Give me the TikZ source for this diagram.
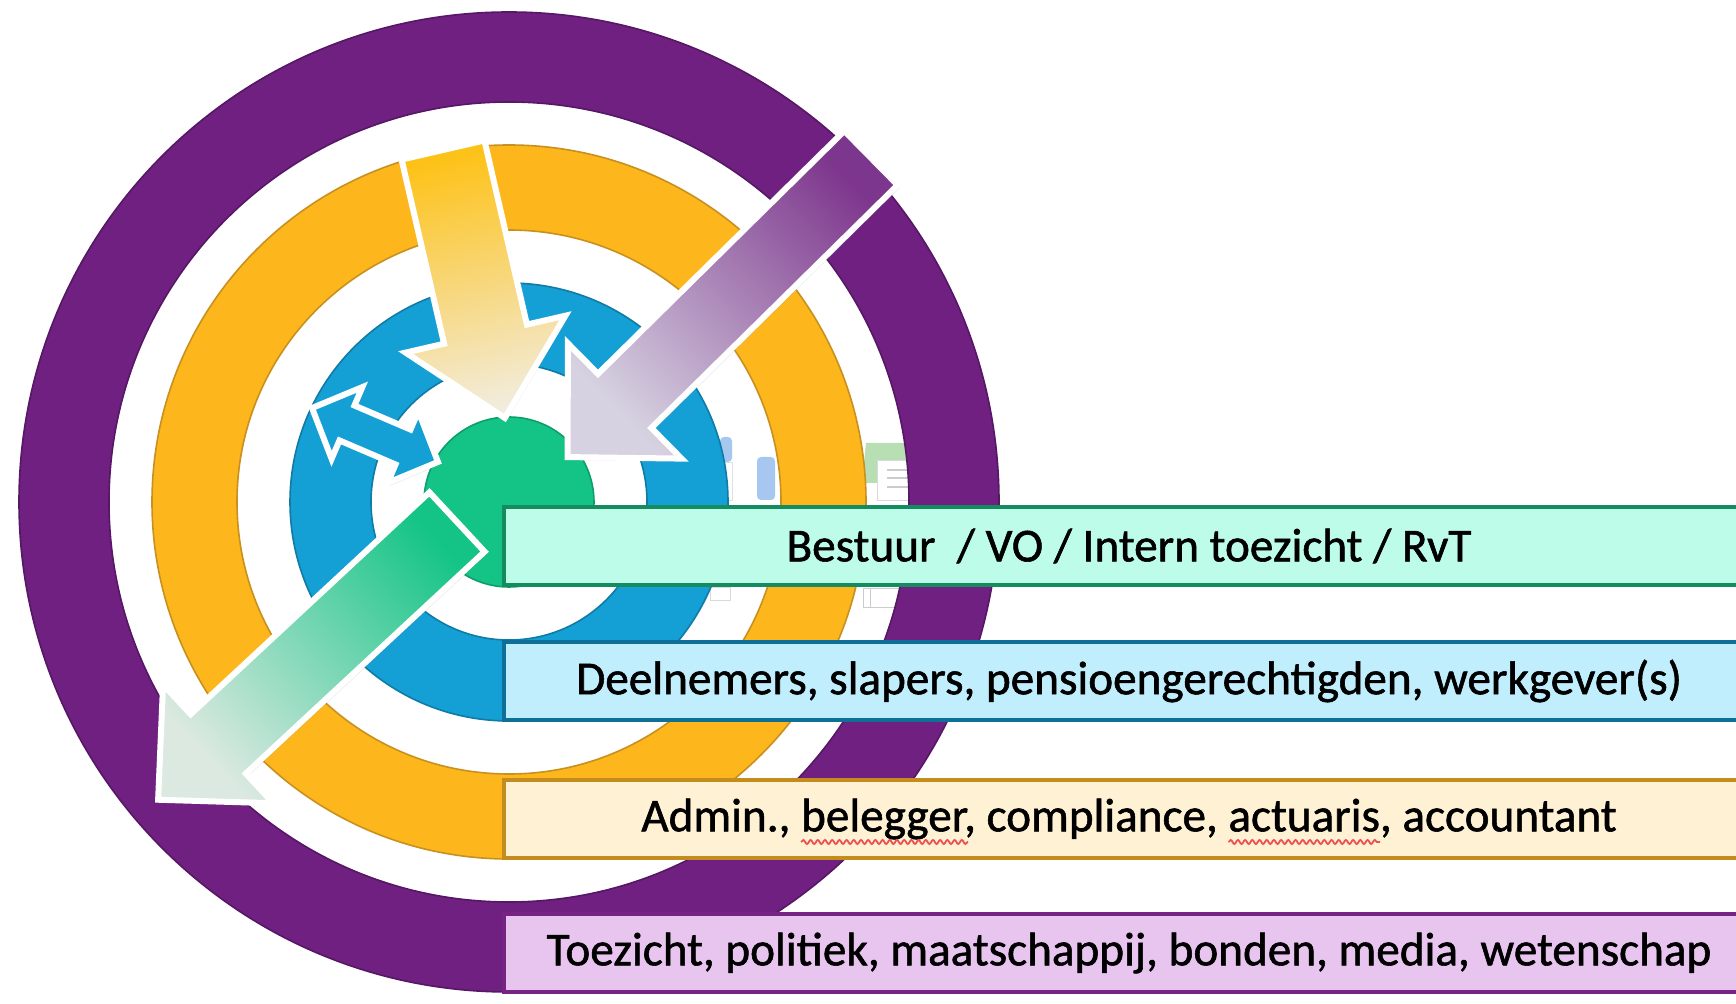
\documentclass[tikz,border=0pt]{standalone}
\usepackage{fontspec}
\setmainfont{Carlito}
\newfontfamily\labelfamily{Carlito}[FakeBold=1.2]
\usetikzlibrary{shadows,decorations.pathmorphing}

\definecolor{ringpurple}{HTML}{6F2080}
\definecolor{ringorange}{HTML}{FDB71C}
\definecolor{ringblue}{HTML}{14A0D4}
\definecolor{ringgreen}{HTML}{14C486}
\definecolor{linepurple}{HTML}{561765}
\definecolor{lineorange}{HTML}{C8901E}
\definecolor{lineblue}{HTML}{0F7BA6}
\definecolor{linegreen}{HTML}{0E9E6C}
\definecolor{boxgreen}{HTML}{BDFCE8}
\definecolor{boxblue}{HTML}{C0EEFC}
\definecolor{boxorange}{HTML}{FFF1D4}
\definecolor{boxpurple}{HTML}{E7C5EF}
\definecolor{edgegreen}{HTML}{148C60}
\definecolor{edgeblue}{HTML}{0E6F99}
\definecolor{edgeorange}{HTML}{C48B1D}
\definecolor{edgepurple}{HTML}{762383}
\definecolor{spellred}{HTML}{EE5050}
\definecolor{iconblue}{HTML}{A6C8F0}
\definecolor{icongreen}{HTML}{B8DEB4}
\definecolor{tipcream}{HTML}{F2ECDC}
\definecolor{tiplilac}{HTML}{D6D2E1}
\definecolor{tipmint}{HTML}{DCE9E1}

\newcommand{\labelfont}{\labelfamily\fontsize{23.6}{28}\selectfont}
\newlength\admfull
\newlength\admskipa
\newlength\admworda
\newlength\admskipb
\newlength\admwordb

\begin{document}
% widths used for the spelling marks
\settowidth\admfull{\labelfont Admin., belegger, compliance, actuaris, accountant}%
\settowidth\admskipa{\labelfont Admin., }%
\settowidth\admworda{\labelfont belegger}%
\settowidth\admskipb{\labelfont Admin., belegger, compliance, }%
\settowidth\admwordb{\labelfont actuaris}%
\begin{tikzpicture}[x=0.5pt,y=-0.5pt,
    labelbox/.style={draw, line width=2pt, minimum width=625pt, minimum height=39pt, inner sep=0pt, font=\labelfont},
    spellwave/.style={draw=spellred, line width=0.9pt, decorate, decoration={snake, amplitude=1pt, segment length=3.6pt}},
    blockarrow/.style={draw=white, line width=3pt, line join=miter, drop shadow={opacity=0.2, shadow xshift=1pt, shadow yshift=-1.5pt}}]
    \useasboundingbox (0,0) rectangle (1736,1004);
    \clip (0,0) rectangle (1736,1004);
    \coordinate (c) at (509,502);

    % pale icons behind the rings
    \fill[iconblue, rounded corners=2pt] (720,437) rectangle (732,462);
    \draw[black!12] (720,462) rectangle (732,500);
    \fill[iconblue, rounded corners=2pt] (757,457) rectangle (775,500);
    \fill[icongreen] (862,483) -- (866,443) -- (912,443) -- (922,470) -- (922,483) -- cycle;
    \draw[black!15, fill=white] (877,460) rectangle (925,500);
    \foreach \y in {470,478,487}
        \draw[black!20, line width=1pt] (887,\y) -- (918,\y);
    \draw[black!20, fill=white] (863,588) rectangle (907,607);
    \draw[black!20] (870,588) -- (870,607);
    \draw[black!15, fill=white] (710,587) rectangle (730,600);

    % rings
    \fill[ringpurple, even odd rule] (c) circle (490) (c) circle (400);
    \draw[linepurple, line width=0.8pt] (c) circle (490) (c) circle (400);
    \fill[ringorange, even odd rule] (c) circle (357) (c) circle (272);
    \draw[lineorange, line width=0.8pt] (c) circle (357) (c) circle (272);
    \fill[ringblue, even odd rule] (c) circle (219) (c) circle (138);
    \draw[lineblue, line width=0.8pt] (c) circle (219) (c) circle (138);
    \fill[ringgreen] (c) circle (85);
    \draw[linegreen, line width=0.8pt] (c) circle (85);

    % labels
    \node[labelbox, fill=boxgreen, draw=edgegreen] (bestuur) at (1129,546) {Bestuur~ / VO / Intern toezicht / RvT};
    \node[labelbox, fill=boxblue, draw=edgeblue] (deelnemers) at (1129,681) {Deelnemers, slapers, pensioengerechtigden, werkgever(s)};
    \node[labelbox, fill=boxorange, draw=edgeorange] (admin) at (1129,819) {Admin., belegger, compliance, actuaris, accountant};
    \node[labelbox, fill=boxpurple, draw=edgepurple] (toezicht) at (1129,953) {Toezicht, politiek, maatschappij, bonden, media, wetenschap};

    % spelling marks under two words
    \coordinate (bel) at ([xshift=-0.5\admfull+\admskipa, yshift=-11.5pt]admin.center);
    \coordinate (act) at ([xshift=-0.5\admfull+\admskipb, yshift=-11.5pt]admin.center);
    \draw[spellwave] (bel) -- ([xshift=\admworda]bel);
    \draw[spellwave] (act) -- ([xshift=\admwordb]act);

    % arrows
    \begin{scope}[shift={(443,150)}, rotate=-77]
        \shade[blockarrow, bottom color=ringorange!85!yellow, top color=tipcream, shading angle=-167]
            (0,-42.5) -- (189,-42.5) -- (189,-82) -- (275,0) -- (189,82) -- (189,42.5) -- (0,42.5) -- cycle;
    \end{scope}
    \begin{scope}[shift={(871,158)}, rotate=-135.4]
        \shade[blockarrow, bottom color=ringpurple!90, top color=tiplilac, shading angle=134.6]
            (0,-38) -- (346,-38) -- (346,-81) -- (426,0) -- (346,81) -- (346,38) -- (0,38) -- cycle;
    \end{scope}
    \begin{scope}[shift={(457,522)}, rotate=-137.1]
        \shade[blockarrow, bottom color=ringgreen, top color=tipmint, shading angle=132.9]
            (0,-40.5) -- (326,-40.5) -- (326,-81) -- (408,0) -- (326,81) -- (326,40.5) -- (0,40.5) -- cycle;
    \end{scope}
    \begin{scope}[shift={(375,435)}, rotate=-23.2]
        \fill[blockarrow, fill=ringblue]
            (-68.5,0) -- (-30.5,-39) -- (-30.5,-19) -- (30.5,-19) -- (30.5,-39) -- (68.5,0)
            -- (30.5,39) -- (30.5,19) -- (-30.5,19) -- (-30.5,39) -- cycle;
    \end{scope}
\end{tikzpicture}
\end{document}
